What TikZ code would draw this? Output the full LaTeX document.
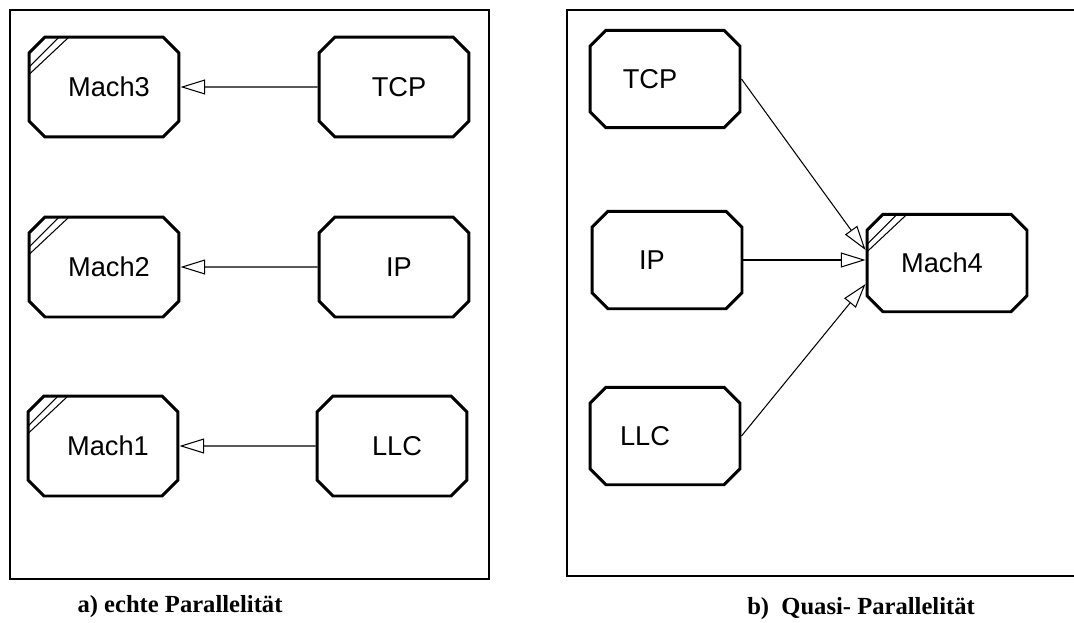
\documentclass[tikz,border=0pt]{standalone}
\usepackage{fontspec}
\setmainfont{Liberation Serif}
\setsansfont{Liberation Sans}
\usetikzlibrary{shapes.misc,arrows.meta}

\begin{document}
\begin{tikzpicture}[x=0.02cm,y=-0.02cm,
  >={Triangle[open,length=14pt,width=8.5pt]},
  box/.style={chamfered rectangle,chamfered rectangle xsep=0.16cm,
    chamfered rectangle ysep=0.16cm,draw,line width=1.7pt,inner sep=0pt,
    minimum width=3cm,minimum height=2cm,
    font=\sffamily\fontsize{15.5}{18}\selectfont},
  mach/.style={box,path picture={
    \draw[line width=0.6pt] ([xshift=0.6cm]path picture bounding box.north west)
      -- ([yshift=-0.6cm]path picture bounding box.north west);
    \draw[line width=0.6pt] ([xshift=0.8cm]path picture bounding box.north west)
      -- ([yshift=-0.75cm]path picture bounding box.north west);}},
  conn/.style={->,line width=0.6pt},
  frame/.style={line width=1.2pt},
  caption/.style={font=\bfseries\fontsize{14}{16}\selectfont}]
  \useasboundingbox (0,0) rectangle (1074,622);
  % --- a) echte Parallelitaet ---
  \draw[frame] (10,10) rectangle (489,579);
  \node[mach] (mach3) at (104,87)  {\hspace*{0.2cm}Mach3};
  \node[mach] (mach2) at (104,267) {\hspace*{0.2cm}Mach2};
  \node[mach] (mach1) at (103,446) {\hspace*{0.2cm}Mach1};
  \node[box]  (tcpa)  at (394,87)  {\hspace*{0.2cm}TCP};
  \node[box]  (ipa)   at (394,267) {\hspace*{0.2cm}IP};
  \node[box]  (llca)  at (392,446) {\hspace*{0.2cm}LLC};
  \draw[conn] (tcpa) -- (mach3);
  \draw[conn] (ipa)  -- (mach2);
  \draw[conn] (llca) -- (mach1);
  \node[caption] (capa) at (180,607) {a) echte Parallelität};
  % --- b) Quasi-Parallelitaet ---
  \draw[frame] (1080,10) -- (567,10) -- (567,576) -- (1080,576);
  \node[box,minimum height=1.95cm] (tcpb) at (665,79)  {TCP\hspace*{0.6cm}};
  \node[box,minimum height=1.95cm] (ipb)  at (667,260) {IP\hspace*{0.6cm}};
  \node[box,minimum height=1.95cm] (llcb) at (665,436) {LLC\hspace*{0.8cm}};
  \node[mach,minimum width=3.2cm,minimum height=1.95cm] (mach4) at (947,263)
    {Mach4\hspace*{0.2cm}};
  \draw[conn] (tcpb.east) -- ([yshift=0.26cm]mach4.west);
  \draw[conn] (ipb.east)  -- (ipb.east -| mach4.west);
  \draw[conn] (llcb.east) -- ([yshift=-0.42cm]mach4.west);
  \node[caption] (capb) at (861,609) {b)\ \ Quasi- Parallelität};
\end{tikzpicture}
\end{document}
